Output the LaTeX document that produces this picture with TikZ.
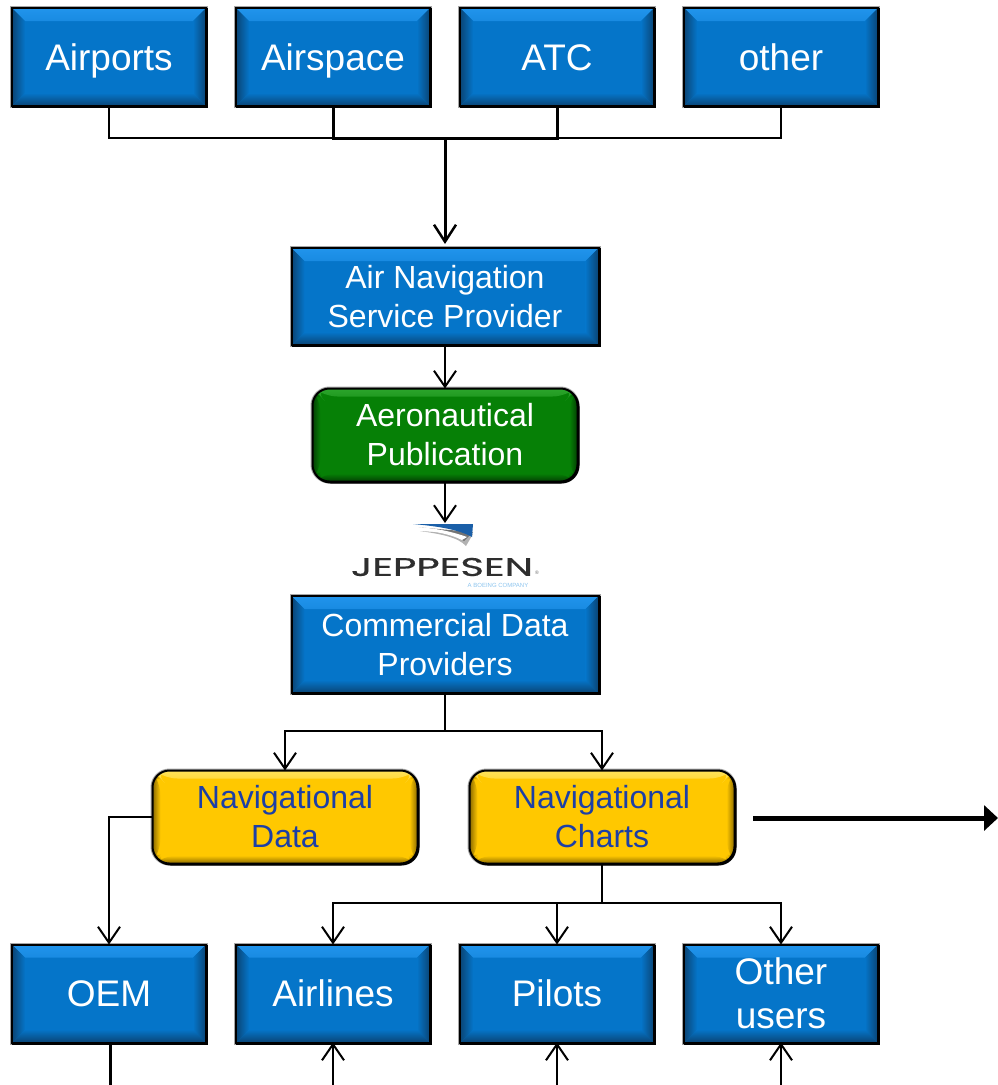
\documentclass[tikz,border=0pt]{standalone}
\usepackage{fontspec}
\usepackage{graphicx}
\setmainfont{Liberation Sans}
\newfontfamily\logofont[FakeBold=0.6]{Poppins}
\usetikzlibrary{arrows.meta,calc}
\definecolor{boxblue}{HTML}{0575C9}
\definecolor{bluelight}{HTML}{2194EC}
\definecolor{bluedark}{HTML}{0A4474}
\definecolor{boxgreen}{HTML}{068006}
\definecolor{greenlight}{HTML}{2CA52C}
\definecolor{greendark}{HTML}{034003}
\definecolor{boxyellow}{HTML}{FFC800}
\definecolor{yellowlight}{HTML}{FFE25A}
\definecolor{yellowdark}{HTML}{8A6A00}
\definecolor{navytext}{HTML}{1C3FA6}
\definecolor{swooshblue}{HTML}{1A5FA8}
\definecolor{boeingblue}{HTML}{8CC4EE}
\tikzset{
  x=1pt,y=-1pt,
  bevelled/.style n args={4}{
    draw=black,line width=2pt,fill=#1,inner sep=0pt,outer sep=0pt,
    preaction={draw=black!35,line width=4pt},
    preaction={fill=black,draw=black,line width=2pt,transform canvas={xshift=1pt,yshift=-1pt}},
    path picture={
      \coordinate (nw) at (path picture bounding box.north west);
      \coordinate (ne) at (path picture bounding box.north east);
      \coordinate (sw) at (path picture bounding box.south west);
      \coordinate (se) at (path picture bounding box.south east);
      \shade[top color=#2,bottom color=#2!70!#1] (nw) -- (ne) -- ($(ne)+(-#4,#4)$) -- ($(nw)+(#4,#4)$) -- cycle;
      \shade[left color=#3,right color=#1] (nw) -- ($(nw)+(#4,#4)$) -- ($(sw)+(#4,-#4)$) -- (sw) -- cycle;
      \shade[right color=#3,left color=#1] (ne) -- ($(ne)+(-#4,#4)$) -- ($(se)+(-#4,-#4)$) -- (se) -- cycle;
      \shade[bottom color=#3,top color=#1] (sw) -- ($(sw)+(#4,-#4)$) -- ($(se)+(-#4,-#4)$) -- (se) -- cycle;
    }},
  bluebox/.style={rectangle,bevelled={boxblue}{bluelight}{bluedark}{13},text=white,align=center},
  greenbox/.style={rectangle,rounded corners=17pt,bevelled={boxgreen}{greenlight}{greendark}{8},text=white,align=center},
  yellowbox/.style={rectangle,rounded corners=17pt,bevelled={boxyellow}{yellowlight}{yellowdark}{8},text=navytext,align=center},
  smallbox/.style={minimum width=194pt,minimum height=98pt,font=\fontsize{37}{44}\selectfont},
  oneline/.style={text height=26pt,text depth=0pt},
  widebox/.style={minimum width=307pt,minimum height=97pt,font=\fontsize{32}{39}\selectfont},
  pillbox/.style={minimum width=265pt,minimum height=93pt,font=\fontsize{32}{39}\selectfont},
  wire/.style={draw=black,line width=2pt},
  flow/.style={wire,-{Straight Barb[length=16pt,width=22pt,line width=2pt]}},
  trunkflow/.style={draw=black,line width=3pt,shorten >=4pt,-{Straight Barb[length=17pt,width=22pt,line width=2.5pt]}},
  heavywire/.style={draw=black,line width=3pt},
  bigflow/.style={draw=black,line width=5pt,-{Triangle[length=14pt,width=25pt]}}
}
\begin{document}
\begin{tikzpicture}
\useasboundingbox (0,0) rectangle (998,1085);
% top row
\node[bluebox,smallbox,oneline] (airports) at (109,57) {Airports};
\node[bluebox,smallbox,oneline] (airspace) at (333,57) {Airspace};
\node[bluebox,smallbox,oneline] (atc) at (557,57) {ATC};
\node[bluebox,smallbox,oneline] (other) at (781,57) {other};
% middle
\node[bluebox,widebox] (ansp) at (445,296.5) {Air Navigation\\Service Provider};
\node[greenbox,pillbox] (pub) at (445,435) {Aeronautical\\Publication};
\node[bluebox,widebox] (cdp) at (445,644.5) {Commercial Data\\Providers};
\node[yellowbox,pillbox] (navdata) at (285,817) {Navigational\\Data};
\node[yellowbox,pillbox] (navcharts) at (602,817) {Navigational\\Charts};
% bottom row
\node[bluebox,smallbox,oneline] (oem) at (109,993.5) {OEM};
\node[bluebox,smallbox,oneline] (airlines) at (333,993.5) {Airlines};
\node[bluebox,smallbox,oneline] (pilots) at (557,993.5) {Pilots};
\node[bluebox,smallbox] (users) at (781,993.5) {Other\\users};
% logo
\fill[black!30] (420,531) .. controls (440,534) and (458,537) .. (466,546) -- (473,534) -- cycle;
\fill[black!55] (415,527) .. controls (435,529) and (452,532) .. (464,541) -- (473,532) -- cycle;
\fill[white] (414,530) .. controls (435,531) and (450,534) .. (462,540) -- (467,537) .. controls (450,531) and (435,528) .. (414,527) -- cycle;
\fill[swooshblue] (413,524) -- (473,524) -- (472,537) .. controls (458,529) and (435,526) .. (413,524) -- cycle;
\node[inner sep=0pt,text=black!82] (jeppesen) at (442,567) {\resizebox{182pt}{18pt}{\logofont JEPPESEN}};
\node[inner sep=0pt,text=black!60,font=\fontsize{5}{5}\selectfont] (regmark) at (537,573) {®};
\node[inner sep=0pt,text=boeingblue,font=\fontsize{6}{6}\selectfont] (boeing) at (498,585) {A BOEING COMPANY};
% free ends
\coordinate (logotop) at (445,523);
\coordinate (bus) at (445,138);
\coordinate (split) at (445,731);
\coordinate (chartbus) at (602,903);
\coordinate (bigstart) at (753,818);
\coordinate (bigend) at (998,818);
\coordinate (oemend) at (110,1085);
\coordinate (airend) at (333,1085);
\coordinate (pilend) at (557,1085);
\coordinate (usrend) at (781,1085);
% connectors
\draw[wire] (airports.south) |- (bus);
\draw[heavywire] (airspace.south) |- (bus);
\draw[heavywire] (atc.south) |- (bus);
\draw[wire] (other.south) |- (bus);
\draw[trunkflow] (bus) -- (ansp.north);
\draw[flow] (ansp.south) -- (pub.north);
\draw[flow] (pub.south) -- (logotop);
\draw[wire] (cdp.south) -- (split);
\draw[flow] (split) -| (navdata.north);
\draw[flow] (split) -| (navcharts.north);
\draw[flow] (navdata.west) -| (oem.north);
\draw[wire] (navcharts.south) -- (chartbus);
\draw[flow] (chartbus) -| (airlines.north);
\draw[flow] (chartbus) -| (pilots.north);
\draw[flow] (chartbus) -| (users.north);
\draw[bigflow] (bigstart) -- (bigend);
\draw[heavywire] (oem.south -| oemend) -- (oemend);
\draw[flow] (airend) -- (airlines.south);
\draw[flow] (pilend) -- (pilots.south);
\draw[flow] (usrend) -- (users.south);
\end{tikzpicture}
\end{document}
